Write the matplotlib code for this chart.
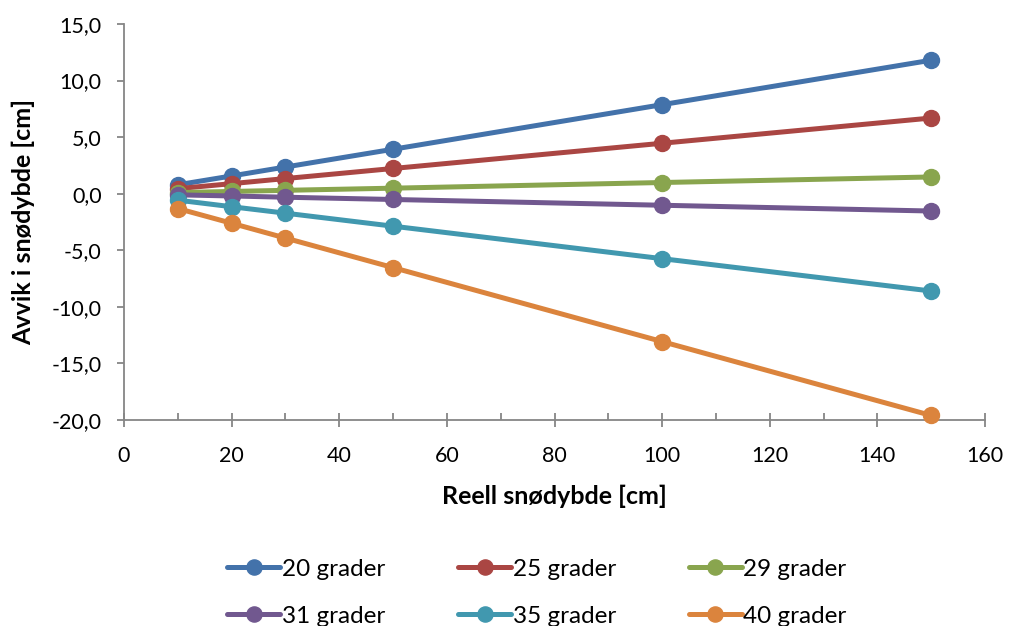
import matplotlib.pyplot as plt
from matplotlib.ticker import FuncFormatter, MultipleLocator

plt.rcParams['font.family'] = ['Lato', 'DejaVu Sans']

# data
dybde = [10, 20, 30, 50, 100, 150]
serier = ['20 grader', '25 grader', '29 grader', '31 grader', '35 grader', '40 grader']
avvik_20 = [0.79, 1.57, 2.36, 3.93, 7.87, 11.8]
avvik_25 = [0.45, 0.89, 1.34, 2.23, 4.46, 6.69]
avvik_29 = [0.10, 0.20, 0.30, 0.49, 0.99, 1.48]
avvik_31 = [-0.10, -0.20, -0.31, -0.51, -1.02, -1.53]
avvik_35 = [-0.57, -1.15, -1.72, -2.87, -5.74, -8.6]
avvik_40 = [-1.31, -2.61, -3.92, -6.53, -13.07, -19.6]
farger = ['#4372AA', '#AA4643', '#89A54E', '#71588F', '#4198AF', '#DB843D']

fig = plt.figure(figsize=(10.11, 6.26), dpi=100)
ax = fig.add_axes([124 / 1011, 1 - 420 / 626, (985 - 124) / 1011, (420 - 24) / 626])

linjer = []
for navn, verdier, farge in zip(serier, [avvik_20, avvik_25, avvik_29, avvik_31, avvik_35, avvik_40], farger):
    l, = ax.plot(dybde, verdier, color=farge, lw=3.6, marker='o', ms=11.5, label=navn,
                 solid_capstyle='round', clip_on=False, zorder=3)
    linjer.append(l)

ax.set_xlim(0, 160)
ax.set_ylim(-20, 15)
ax.xaxis.set_major_locator(MultipleLocator(20))
ax.xaxis.set_minor_locator(MultipleLocator(10))
ax.yaxis.set_major_locator(MultipleLocator(5))
ax.yaxis.set_major_formatter(FuncFormatter(lambda v, p: f'{v:.1f}'.replace('.', ',')))

grå = '#868686'
for s in ['top', 'right']:
    ax.spines[s].set_visible(False)
for s in ['left', 'bottom']:
    ax.spines[s].set_color(grå)
    ax.spines[s].set_linewidth(1.3)
ax.tick_params(axis='x', which='major', direction='inout', length=10, width=1.3, color=grå,
               labelsize=15.5, pad=14)
ax.tick_params(axis='x', which='minor', direction='in', length=5, width=1.3, color=grå)
ax.tick_params(axis='y', which='major', direction='out', length=5, width=1.3, color=grå,
               labelsize=15.5, pad=11)

ax.set_xlabel('Reell snødybde [cm]', fontsize=18, fontweight='bold', labelpad=13)
ax.set_ylabel('Avvik i snødybde [cm]', fontsize=18, fontweight='bold', labelpad=12)

# legenden fylles kolonnevis, så rekkefølgen byttes for radvis visning
rekkefolge = [0, 3, 1, 4, 2, 5]
fig.legend([linjer[i] for i in rekkefolge], [serier[i] for i in rekkefolge],
           loc='upper center', bbox_to_anchor=(0.531, 0.142),
           ncol=3, frameon=False, fontsize=17.5, handlelength=2.2, handletextpad=0.05,
           columnspacing=3.0, labelspacing=1.05, borderpad=0.4, markerscale=0.95)

fig.savefig('out.png', dpi=100)
